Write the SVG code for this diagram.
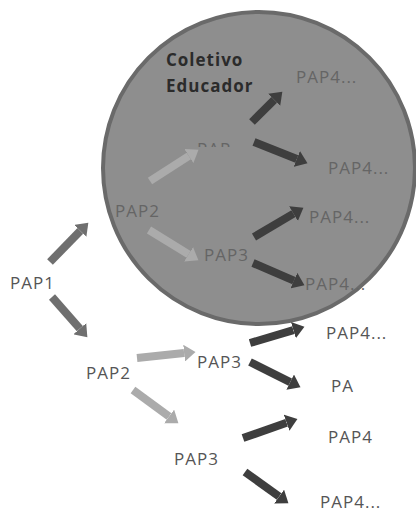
<svg xmlns="http://www.w3.org/2000/svg" width="416" height="514" viewBox="0 0 416 514">
  <style>
    text { font-family: "Open Sans", "Liberation Sans", sans-serif; font-size: 17px; letter-spacing: 1px; }
    .out { fill: #555555; }
    .in { fill: #656565; }
    .title { fill: #2b2b2b; font-weight: bold; }
    .mid { stroke: #6f6f6f; }
    .light { stroke: #ababab; }
    .dark { stroke: #3e3e3e; }
    #connectors line { stroke-width: 8; fill: none; }
  </style>
  <defs>
    <marker id="hm" markerUnits="userSpaceOnUse" markerWidth="12" markerHeight="17" refX="0" refY="8.5" orient="auto">
      <path d="M0,0 L11.5,8.5 L0,17 Z" fill="#6f6f6f"/>
    </marker>
    <marker id="hl" markerUnits="userSpaceOnUse" markerWidth="12" markerHeight="17" refX="0" refY="8.5" orient="auto">
      <path d="M0,0 L11.5,8.5 L0,17 Z" fill="#ababab"/>
    </marker>
    <marker id="hd" markerUnits="userSpaceOnUse" markerWidth="12" markerHeight="17" refX="0" refY="8.5" orient="auto">
      <path d="M0,0 L11.5,8.5 L0,17 Z" fill="#3e3e3e"/>
    </marker>
    <clipPath id="cut">
      <rect x="190" y="130" width="60" height="17"/>
    </clipPath>
  </defs>

  <g id="coletivo-educador">
    <circle cx="259" cy="168" r="156" fill="#8e8e8e" stroke="#6a6a6a" stroke-width="4"/>
    <text class="title" x="166" y="66">Coletivo</text>
    <text class="title" x="166" y="92">Educador</text>
  </g>

  <g id="connectors">
    <line class="mid" x1="50" y1="262" x2="80.3" y2="230.9" marker-end="url(#hm)"/>
    <line class="mid" x1="52" y1="297" x2="79.8" y2="328.7" marker-end="url(#hm)"/>
    <line class="light" x1="150" y1="181" x2="188.8" y2="156" marker-end="url(#hl)"/>
    <line class="light" x1="149" y1="230" x2="188.6" y2="254.3" marker-end="url(#hl)"/>
    <line class="dark" x1="252" y1="122" x2="274.2" y2="99.8" marker-end="url(#hd)"/>
    <line class="dark" x1="254" y1="142" x2="296.8" y2="159" marker-end="url(#hd)"/>
    <line class="dark" x1="254" y1="237" x2="293.5" y2="213.6" marker-end="url(#hd)"/>
    <line class="dark" x1="253" y1="263" x2="293.9" y2="280.6" marker-end="url(#hd)"/>
    <line class="dark" x1="250" y1="343" x2="293.4" y2="330.1" marker-end="url(#hd)"/>
    <line class="dark" x1="250" y1="362" x2="290.2" y2="382.1" marker-end="url(#hd)"/>
    <line class="light" x1="137" y1="358" x2="184.1" y2="353.1" marker-end="url(#hl)"/>
    <line class="light" x1="133" y1="390" x2="169.1" y2="416.5" marker-end="url(#hl)"/>
    <line class="dark" x1="243" y1="438" x2="286.6" y2="422.7" marker-end="url(#hd)"/>
    <line class="dark" x1="245" y1="472" x2="279.1" y2="496.6" marker-end="url(#hd)"/>
  </g>

  <g id="pap1"><text class="out" x="10" y="289">PAP1</text></g>
  <g id="pap2-in"><text class="in" x="115" y="217">PAP2</text></g>
  <g id="pap-cut"><text class="in" x="197" y="155" clip-path="url(#cut)">PAP</text></g>
  <g id="pap3-in"><text class="in" x="204" y="261">PAP3</text></g>
  <g id="pap4-a"><text class="in" x="296" y="83">PAP4...</text></g>
  <g id="pap4-b"><text class="in" x="328" y="174">PAP4...</text></g>
  <g id="pap4-c"><text class="in" x="309" y="223">PAP4...</text></g>
  <g id="pap4-d"><text class="in" x="305" y="290">PAP4...</text></g>
  <g id="pap2-out"><text class="out" x="86" y="379">PAP2</text></g>
  <g id="pap3-out-a"><text class="out" x="197" y="368">PAP3</text></g>
  <g id="pap3-out-b"><text class="out" x="174" y="465">PAP3</text></g>
  <g id="pap4-e"><text class="out" x="326" y="339">PAP4...</text></g>
  <g id="pa"><text class="out" x="331" y="392">PA</text></g>
  <g id="pap4-f"><text class="out" x="328" y="443">PAP4</text></g>
  <g id="pap4-g"><text class="out" x="320" y="508">PAP4...</text></g>
</svg>
